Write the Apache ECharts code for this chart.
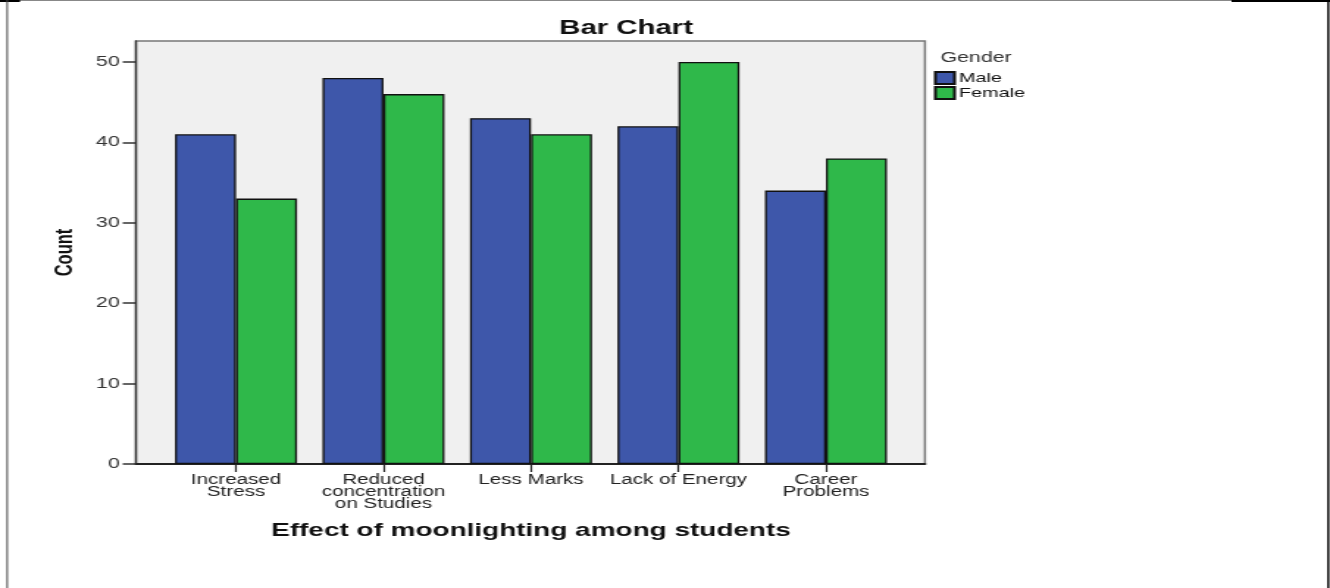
<!DOCTYPE html>
<html>
<head>
<meta charset="utf-8">
<script src="https://cdn.jsdelivr.net/npm/echarts@6/dist/echarts.min.js"></script>
<style>
html,body{margin:0;padding:0;background:#fff;overflow:hidden;}
#wrap{width:1330px;height:588px;overflow:hidden;position:relative;}
#chart{width:905px;height:588px;transform:scaleX(1.46961);transform-origin:0 0;}
</style>
</head>
<body>
<div id="wrap"><div id="chart"></div></div>
<script>
// ---- data ----
const categories = ['Increased\nStress', 'Reduced\nconcentration\non Studies', 'Less Marks', 'Lack of Energy', 'Career\nProblems'];
const maleValues = [41, 48, 43, 42, 34];
const femaleValues = [33, 46, 41, 50, 38];
const yTicks = [0, 10, 20, 30, 40, 50];
const seriesNames = ['Male', 'Female'];
const chartTitle = 'Bar Chart';
const legendTitle = 'Gender';
const xTitle = 'Effect of moonlighting among students';
const yTitle = 'Count';

const FONT = 'Liberation Sans, Arial, sans-serif';
const Y_MAX = 52.6;

const chart = echarts.init(document.getElementById('chart'), null, {renderer: 'canvas'});
chart.setOption({
  backgroundColor: '#ffffff',
  animation: false,
  textStyle: {fontFamily: FONT},
  title: [
    {text: chartTitle, left: 426, top: 18, textAlign: 'center', padding: 0,
     textStyle: {fontFamily: FONT, fontSize: 20, fontWeight: 'bold', color: '#111'}},
    {text: legendTitle, left: 640, top: 50, padding: 0,
     textStyle: {fontFamily: FONT, fontSize: 14.5, fontWeight: 'normal', color: '#333'}}
  ],
  legend: {
    orient: 'vertical', left: 635.5, top: 71, padding: 0,
    itemWidth: 13, itemHeight: 12, itemGap: 1, icon: 'rect',
    data: seriesNames,
    textStyle: {fontFamily: FONT, fontSize: 13.5, lineHeight: 12, color: '#111', padding: [0, 0, 0, -2]}
  },
  grid: [
    {left: 92.5, top: 41, width: 536.9, height: 423, show: true,
     backgroundColor: '#f0f0f0', borderColor: '#777', borderWidth: 1.5},
    {left: 110.4, top: 41, width: 501.8, height: 423}
  ],
  xAxis: [
    {gridIndex: 0, type: 'value', min: 0, max: 1,
     axisLine: {show: true, lineStyle: {color: '#222', width: 2}},
     axisTick: {show: false}, axisLabel: {show: false}, splitLine: {show: false}},
    {gridIndex: 1, type: 'category', data: categories,
     axisLine: {show: false},
     axisTick: {show: true, alignWithLabel: true, length: 8, lineStyle: {color: '#222', width: 1.2}},
     axisLabel: {margin: 10, fontFamily: FONT, fontSize: 14, lineHeight: 12, color: '#222', interval: 0},
     name: xTitle, nameLocation: 'middle', nameGap: 57,
     nameTextStyle: {fontFamily: FONT, fontSize: 19, fontWeight: 'bold', color: '#111'}}
  ],
  yAxis: [
    {gridIndex: 0, type: 'value', min: 0, max: Y_MAX, interval: 10,
     axisLine: {show: true, lineStyle: {color: '#333', width: 1.3}},
     axisTick: {show: true, inside: false, length: 9, customValues: yTicks, lineStyle: {color: '#333', width: 1.5}},
     axisLabel: {margin: 11, fontFamily: FONT, fontSize: 14.5, color: '#333', customValues: yTicks},
     splitLine: {show: false},
     name: yTitle, nameLocation: 'middle', nameGap: 40, nameRotate: 90,
     nameTextStyle: {fontFamily: FONT, fontSize: 16.5, fontWeight: 'bold', color: '#111'}},
    {gridIndex: 1, type: 'value', min: 0, max: Y_MAX, show: false, splitLine: {show: false}}
  ],
  series: [
    {name: seriesNames[0], type: 'bar', xAxisIndex: 1, yAxisIndex: 1, data: maleValues,
     barWidth: 41.5, barGap: '0%',
     itemStyle: {color: '#3e57aa', borderColor: '#111', borderWidth: 1.3}},
    {name: seriesNames[1], type: 'bar', xAxisIndex: 1, yAxisIndex: 1, data: femaleValues,
     barWidth: 41.5, barGap: '0%',
     itemStyle: {color: '#2fb84a', borderColor: '#111', borderWidth: 1.3}}
  ],
  graphic: [
    {type: 'line', silent: true, shape: {x1: 0, y1: 0.5, x2: 838, y2: 0.5}, style: {stroke: '#888', lineWidth: 1}},
    {type: 'line', silent: true, shape: {x1: 838, y1: 1, x2: 905, y2: 1}, style: {stroke: '#000', lineWidth: 2}},
    {type: 'line', silent: true, shape: {x1: 0, y1: 1, x2: 13.6, y2: 1}, style: {stroke: '#000', lineWidth: 2}},
    {type: 'line', silent: true, shape: {x1: 4.9, y1: 0, x2: 4.9, y2: 588}, style: {stroke: '#444', lineWidth: 1}},
    {type: 'line', silent: true, shape: {x1: 903.8, y1: 0, x2: 903.8, y2: 588}, style: {stroke: '#000', lineWidth: 1.4}}
  ]
});
</script>
</body>
</html>
